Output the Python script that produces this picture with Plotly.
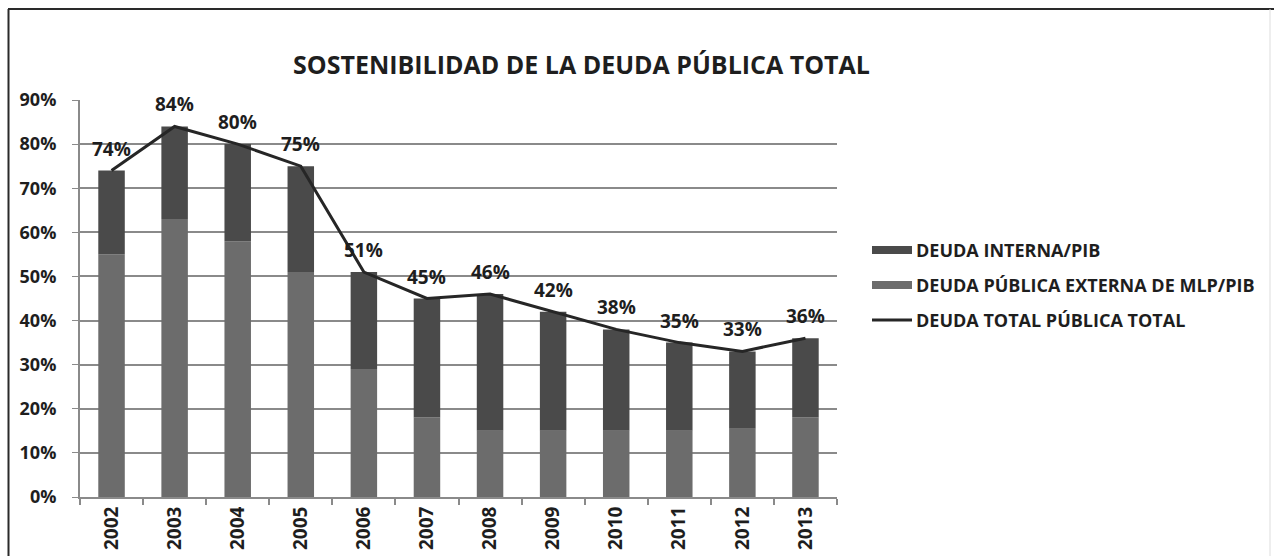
import plotly.graph_objects as go

years = ["2002", "2003", "2004", "2005", "2006", "2007", "2008", "2009", "2010", "2011", "2012", "2013"]
total = [74, 84, 80, 75, 51, 45, 46, 42, 38, 35, 33, 36]
externa = [55, 63, 58, 51, 29, 18, 15, 15, 15, 15, 15.5, 18]
interna = [t - e for t, e in zip(total, externa)]
yticks = [0, 10, 20, 30, 40, 50, 60, 70, 80, 90]
ytick_text = [f"{v}%" for v in yticks]

names = ["DEUDA INTERNA/PIB", "DEUDA PÚBLICA EXTERNA DE MLP/PIB", "DEUDA TOTAL PÚBLICA TOTAL"]

W, H = 1274, 556
L, R, T, B = 80, 837, 100, 497
FONT = "Open Sans"
C_INT = "#4a4a4a"
C_EXT = "#6c6c6c"
C_LINE = "#262626"
C_TXT = "#1e1e1e"


def px(x):
    return (x - L) / (R - L)


def py(y):
    return (B - y) / (B - T)


fig = go.Figure()
fig.add_trace(go.Bar(x=years, y=externa, name=names[1], marker=dict(color=C_EXT, line=dict(width=0)),
                     showlegend=False))
fig.add_trace(go.Bar(x=years, y=interna, base=externa, name=names[0], marker=dict(color=C_INT, line=dict(width=0)),
                     showlegend=False))
fig.add_trace(go.Scatter(x=years, y=total, name=names[2], mode="lines",
                         line=dict(color=C_LINE, width=3), showlegend=False))

annotations = []
for i, v in enumerate(total):
    annotations.append(dict(x=i, y=v, xref="x", yref="y", text=f"{v}%", showarrow=False,
                            yshift=22, font=dict(family=FONT, size=19, color=C_TXT, weight="bold")))

shapes = []
# frame
shapes.append(dict(type="line", xref="paper", yref="paper", x0=px(8.5), x1=px(8.5), y0=py(9), y1=py(556),
                   line=dict(color="#2a2a2a", width=2)))
shapes.append(dict(type="line", xref="paper", yref="paper", x0=px(8), x1=px(1274), y0=py(9), y1=py(9),
                   line=dict(color="#2a2a2a", width=2)))
shapes.append(dict(type="line", xref="paper", yref="paper", x0=px(1270), x1=px(1270), y0=py(9), y1=py(556),
                   line=dict(color="#dddddd", width=1)))

# custom legend
rows = [250, 285, 320]
for i, (nm, yy) in enumerate(zip(names, rows)):
    if i < 2:
        shapes.append(dict(type="rect", xref="paper", yref="paper", x0=px(872), x1=px(912),
                           y0=py(yy - 4), y1=py(yy + 4), fillcolor=[C_INT, C_EXT][i], line=dict(width=0)))
    else:
        shapes.append(dict(type="line", xref="paper", yref="paper", x0=px(872), x1=px(912),
                           y0=py(yy), y1=py(yy), line=dict(color=C_LINE, width=3)))
    annotations.append(dict(x=px(914), y=py(yy), xref="paper", yref="paper", text=nm, showarrow=False,
                            xanchor="left", yanchor="middle",
                            font=dict(family=FONT, size=18, color=C_TXT, weight="bold")))

fig.update_layout(
    width=W, height=H,
    margin=dict(l=L, r=W - R, t=T, b=H - B, autoexpand=False),
    paper_bgcolor="white", plot_bgcolor="white",
    barmode="overlay", bargap=0.58,
    title=dict(text="SOSTENIBILIDAD DE LA DEUDA PÚBLICA TOTAL", x=581.5 / W, xanchor="center",
               y=1 - 65 / H, yanchor="middle", xref="container", yref="container",
               font=dict(family=FONT, size=25, color=C_TXT, weight="bold")),
    xaxis=dict(type="category", showgrid=False, showline=True, linecolor="#8a8a8a", linewidth=2,
               ticks="outside", tickson="boundaries", ticklen=6, tickcolor="#8a8a8a", tickwidth=1.5,
               tickangle=-90, automargin=False,
               tickfont=dict(family=FONT, size=19, color=C_TXT, weight="bold")),
    yaxis=dict(range=[0, 90], tickvals=yticks, ticktext=ytick_text, showgrid=True, gridcolor="#8a8a8a",
               gridwidth=2, showline=True, linecolor="#8a8a8a", linewidth=2, ticks="outside", ticklen=6,
               tickcolor="#8a8a8a", zeroline=False, automargin=False, ticklabelstandoff=12,
               tickfont=dict(family=FONT, size=18, color=C_TXT, weight="bold")),
    annotations=annotations,
    shapes=shapes,
)

fig.write_html("out.html", config={"displayModeBar": False},
               post_script="document.body.style.margin='0';document.body.style.overflow='hidden';")
